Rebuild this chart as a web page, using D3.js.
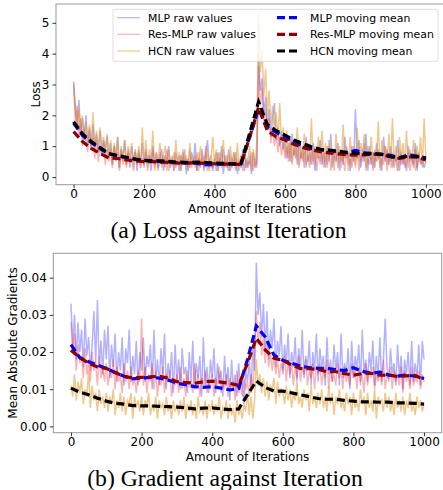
<!DOCTYPE html>
<html>
<head>
<meta charset="utf-8">
<script src="https://cdn.jsdelivr.net/npm/d3@7"></script>
<style>
body { margin: 0; background: #fff; }
</style>
</head>
<body>
<svg id="chart" width="443" height="490" font-family="DejaVu Sans, sans-serif"></svg>
<script>
// raw values are sampled every 5 iterations, moving means every 25
var rawStep = 5;
var meanStep = 25;

var lossMlpRaw = [
  3.1,2.2,1.6,2.5,1.4,1.9,1.2,2.0,1.1,1.6,0.9,1.7,1.0,1.4,0.8,1.5,0.7,1.2,0.9,1.3,
  0.6,1.1,0.4,1.0,0.5,1.3,0.3,0.9,0.6,1.2,0.4,0.8,0.3,1.0,0.5,0.9,0.2,0.8,0.4,1.1,
  0.3,0.9,0.5,0.7,0.2,1.0,0.4,0.8,0.3,0.6,0.9,0.2,0.7,0.4,1.0,0.3,0.6,0.2,0.8,0.5,
  0.2,0.7,0.4,0.9,0.1,0.6,0.3,0.8,0.5,1.1,0.2,0.6,0.3,0.9,0.2,0.7,1.2,0.3,0.5,0.2,
  0.6,0.2,0.8,0.4,1.0,0.1,0.7,0.3,0.9,0.2,0.6,0.4,0.8,0.1,0.5,0.3,0.9,0.2,0.6,0.3,
  0.7,0.1,0.8,0.3,0.5,4.0,2.8,3.2,2.0,2.6,1.6,2.2,1.3,1.9,2.4,1.2,1.6,1.0,1.5,0.9,
  1.3,0.6,1.1,0.5,1.4,0.7,1.0,0.4,1.2,0.6,0.9,0.3,1.3,0.5,0.8,0.4,1.1,0.2,0.9,0.6,
  1.2,0.4,0.8,0.3,1.0,0.5,1.4,0.3,0.7,0.5,1.1,0.2,0.9,0.4,1.3,0.6,0.8,0.2,1.0,0.5,
  2.2,0.6,1.2,0.3,0.9,0.5,1.4,0.2,1.0,0.4,0.8,0.3,1.1,0.6,0.7,0.2,1.3,0.5,0.9,0.4,
  1.0,0.3,0.7,0.5,1.2,0.2,0.8,0.4,0.6,0.2,1.0,0.5,0.7,0.3,1.1,0.2,0.8,0.4,0.6,0.3,0.5
];
var lossResRaw = [
  3.0,1.8,2.3,1.3,1.9,1.0,1.6,1.2,0.8,1.5,0.9,1.3,0.6,1.2,0.5,1.0,0.7,1.1,0.4,0.9,
  0.5,0.9,0.3,1.0,0.6,0.8,0.2,0.9,0.4,0.7,0.3,1.0,0.5,0.6,0.2,0.8,0.4,0.9,0.3,0.6,
  0.4,0.8,0.2,0.7,0.5,0.9,0.3,0.6,0.2,0.8,0.4,0.7,0.3,0.9,0.2,0.6,0.4,0.8,0.3,0.5,
  0.7,0.2,0.8,0.4,0.6,0.2,0.9,0.3,0.5,0.7,0.2,0.8,0.4,0.6,0.3,1.0,0.2,0.5,0.7,0.3,
  0.5,0.8,0.2,0.6,0.3,0.9,0.4,0.5,0.2,0.7,0.3,0.8,0.2,0.6,0.4,0.7,0.2,0.9,0.3,0.5,
  0.4,0.8,0.2,0.6,0.3,3.6,2.3,2.9,1.8,2.2,1.5,1.9,1.1,1.6,1.0,1.4,0.8,1.3,0.7,1.1,
  0.6,1.0,0.5,1.2,0.4,0.9,0.6,1.1,0.3,0.8,0.5,1.0,0.4,0.7,0.3,0.9,0.5,0.8,0.2,0.7,
  0.5,0.9,0.3,0.8,0.4,1.0,0.2,0.7,0.6,0.9,0.3,0.8,0.5,0.7,0.2,1.0,0.4,0.6,0.3,0.8,
  0.4,0.9,0.2,0.7,0.5,1.1,0.3,0.6,0.4,0.8,0.2,0.7,0.5,0.9,0.3,0.6,0.4,1.0,0.2,0.7,
  0.5,0.8,0.3,0.6,0.2,0.9,0.4,0.7,0.3,0.5,0.8,0.2,0.6,0.4,0.9,0.3,0.7,0.5,0.4,0.6,0.5
];
var lossHcnRaw = [
  2.8,2.4,1.7,2.2,1.5,2.0,1.3,1.8,1.1,1.7,1.0,2.1,0.9,1.5,0.8,1.6,1.0,1.3,0.7,1.4,
  0.6,1.2,0.4,1.1,0.7,1.3,0.3,1.0,0.5,1.2,0.4,0.9,0.6,1.1,0.3,0.8,0.5,1.0,0.3,1.6,
  0.4,1.2,0.3,0.9,0.6,1.5,0.2,0.8,0.5,1.1,0.3,0.7,1.0,0.2,0.9,0.4,0.7,0.2,1.2,0.4,
  0.8,0.2,0.9,0.5,0.7,0.2,1.1,0.4,0.6,0.3,0.8,0.2,1.0,0.5,0.7,0.3,0.9,0.2,0.6,1.3,
  0.4,0.9,0.2,0.8,0.5,1.2,0.3,0.7,0.2,1.0,0.4,0.8,0.3,1.1,0.2,0.7,0.5,0.9,0.3,0.6,
  1.0,0.2,0.9,0.4,1.1,5.3,3.4,4.1,2.6,3.5,2.0,2.8,1.7,2.3,1.5,2.1,1.2,2.4,1.1,1.6,
  0.8,1.5,0.6,1.3,0.5,1.2,0.7,1.6,0.4,1.0,0.6,1.4,0.3,1.1,0.5,1.9,0.4,1.0,0.6,1.3,
  0.4,1.5,0.6,1.1,0.3,1.2,0.7,0.9,0.2,1.4,0.5,1.0,0.3,1.7,0.6,0.9,0.2,1.3,0.5,1.0,
  0.3,1.6,0.5,1.1,0.7,1.4,0.2,1.0,0.6,1.3,0.3,0.9,0.5,1.8,0.2,1.2,0.6,1.0,0.4,1.4,
  0.3,1.9,0.5,1.0,0.2,1.3,0.6,1.1,0.4,1.5,0.3,0.9,0.6,1.2,0.2,1.0,0.5,1.3,0.3,1.9,0.6
];

var lossMlpMean = [1.75,1.35,1.12,0.92,0.75,0.68,0.62,0.57,0.53,0.52,0.50,0.48,0.46,0.45,0.44,0.40,0.40,0.42,0.41,0.42,
  1.30,2.20,1.62,1.45,1.30,1.12,1.02,0.92,0.88,0.84,0.82,0.78,0.86,0.78,0.76,0.74,0.70,0.62,0.72,0.68,0.62];
var lossResMean = [1.47,1.15,0.93,0.76,0.62,0.60,0.55,0.52,0.50,0.50,0.48,0.47,0.45,0.45,0.46,0.44,0.43,0.42,0.41,0.41,
  1.30,2.25,1.50,1.30,1.20,1.06,0.96,0.88,0.82,0.78,0.75,0.72,0.71,0.72,0.74,0.72,0.66,0.60,0.65,0.64,0.55];
var lossHcnMean = [1.79,1.40,1.15,0.95,0.76,0.70,0.64,0.58,0.54,0.52,0.52,0.50,0.48,0.47,0.48,0.47,0.45,0.44,0.43,0.43,
  1.43,2.44,1.70,1.50,1.36,1.20,1.09,0.98,0.90,0.87,0.84,0.80,0.77,0.75,0.76,0.73,0.66,0.63,0.67,0.66,0.60];

var gradMlpRaw = [
  .033,.022,.030,.018,.028,.020,.026,.016,.029,.019,.024,.015,.022,.031,.017,.034,.016,.023,.014,.026,
  .018,.027,.013,.022,.016,.025,.012,.020,.015,.024,.011,.021,.017,.026,.012,.019,.014,.023,.011,.020,
  .015,.024,.012,.019,.016,.022,.010,.026,.013,.018,.011,.021,.014,.025,.010,.017,.013,.020,.009,.022,
  .012,.018,.010,.021,.014,.016,.009,.020,.012,.023,.010,.017,.013,.019,.008,.024,.011,.016,.009,.018,
  .013,.021,.009,.017,.012,.015,.008,.019,.011,.016,.007,.018,.010,.014,.008,.017,.010,.013,.006,.015,
  .012,.018,.009,.022,.015,.044,.030,.036,.024,.033,.020,.031,.018,.026,.021,.029,.016,.023,.019,.027,
  .014,.022,.017,.025,.013,.020,.016,.024,.012,.021,.015,.026,.013,.019,.016,.023,.011,.020,.015,.025,
  .012,.021,.016,.019,.011,.024,.014,.018,.012,.022,.015,.020,.011,.025,.013,.017,.014,.021,.010,.023,
  .013,.019,.015,.022,.011,.026,.014,.018,.012,.020,.015,.023,.011,.019,.013,.024,.012,.018,.029,.016,
  .012,.021,.014,.017,.011,.022,.013,.019,.010,.018,.014,.020,.011,.023,.012,.017,.013,.022,.011,.023,.018
];
var gradResRaw = [
  .028,.020,.025,.015,.022,.017,.019,.013,.021,.014,.018,.012,.020,.015,.017,.011,.019,.013,.016,.012,
  .017,.011,.015,.013,.018,.010,.016,.012,.014,.009,.017,.012,.015,.010,.016,.011,.013,.009,.015,.012,
  .029,.011,.016,.009,.014,.012,.017,.010,.015,.008,.013,.011,.016,.009,.014,.012,.015,.008,.013,.011,
  .014,.009,.016,.010,.013,.008,.015,.011,.012,.009,.017,.010,.014,.008,.013,.011,.015,.009,.012,.010,
  .014,.008,.013,.011,.016,.009,.012,.010,.014,.008,.013,.010,.012,.007,.015,.009,.011,.008,.013,.010,
  .012,.008,.014,.010,.018,.031,.022,.028,.019,.024,.017,.023,.016,.020,.015,.019,.014,.018,.013,.017,
  .015,.019,.012,.018,.014,.017,.011,.016,.013,.019,.012,.016,.014,.018,.011,.015,.013,.017,.010,.016,
  .014,.017,.011,.015,.013,.018,.010,.016,.012,.014,.011,.017,.013,.015,.010,.016,.012,.014,.011,.017,
  .013,.015,.010,.016,.012,.014,.009,.017,.011,.015,.013,.016,.010,.014,.012,.015,.011,.018,.010,.014,
  .013,.016,.010,.015,.012,.014,.011,.016,.009,.015,.012,.014,.010,.016,.011,.013,.012,.015,.010,.014,.012
];
var gradHcnRaw = [
  .011,.008,.014,.007,.012,.009,.013,.006,.010,.008,.015,.005,.011,.007,.009,.004,.010,.006,.008,.005,
  .009,.004,.008,.006,.010,.003,.007,.005,.009,.004,.008,.003,.007,.006,.009,.002,.008,.005,.007,.004,
  .008,.003,.007,.005,.009,.003,.006,.004,.008,.002,.007,.005,.006,.003,.008,.004,.006,.002,.007,.004,
  .006,.003,.007,.004,.008,.002,.006,.004,.007,.003,.006,.002,.008,.004,.005,.003,.007,.002,.006,.004,
  .007,.003,.006,.004,.008,.002,.005,.004,.007,.002,.006,.003,.005,.001,.007,.003,.005,.002,.006,.004,
  .009,.003,.008,.002,.007,.018,.011,.014,.009,.013,.008,.012,.007,.011,.010,.013,.006,.012,.008,.010,
  .009,.006,.011,.007,.010,.005,.009,.007,.012,.006,.008,.005,.010,.007,.009,.004,.011,.006,.008,.005,
  .009,.006,.010,.005,.008,.004,.011,.006,.009,.003,.008,.006,.010,.005,.007,.004,.009,.006,.008,.003,
  .009,.005,.007,.004,.010,.006,.008,.003,.009,.005,.007,.004,.010,.002,.008,.006,.007,.004,.009,.005,
  .008,.004,.007,.003,.009,.005,.007,.004,.008,.003,.007,.005,.009,.004,.006,.003,.008,.005,.007,.004,.006
];

var gradMlpMean = [.0220,.0185,.0174,.0165,.0156,.0145,.0135,.0128,.0130,.0132,.0130,.0125,.0116,.0112,.0107,.0105,.0107,.0103,.0098,.0102,
  .0180,.0270,.0241,.0192,.0178,.0170,.0162,.0158,.0156,.0156,.0153,.0150,.0158,.0148,.0143,.0146,.0138,.0135,.0138,.0135,.0129];
var gradResMean = [.0205,.0185,.0170,.0160,.0156,.0145,.0135,.0130,.0132,.0133,.0135,.0130,.0120,.0118,.0116,.0120,.0122,.0119,.0116,.0110,
  .0170,.0237,.0206,.0183,.0178,.0165,.0156,.0155,.0153,.0147,.0147,.0142,.0138,.0142,.0143,.0138,.0138,.0134,.0136,.0137,.0125];
var gradHcnMean = [.0103,.0092,.0085,.0076,.0068,.0062,.0060,.0056,.0055,.0055,.0054,.0053,.0052,.0050,.0047,.0049,.0050,.0047,.0045,.0047,
  .0085,.0122,.0105,.0095,.0095,.0090,.0085,.0080,.0075,.0073,.0073,.0070,.0068,.0066,.0066,.0065,.0065,.0063,.0063,.0062,.0060];

var xTicks = [0, 200, 400, 600, 800, 1000];
var lossTicks = [0, 1, 2, 3, 4, 5];
var gradTicks = [0, 0.01, 0.02, 0.03, 0.04];

var seriesNames = ["MLP", "Res-MLP", "HCN"];
var rawColors = ["#0000ff", "#ff0000", "#e09b2d"];
var rawAlpha = [0.3, 0.3, 0.55];
var meanColors = ["#0000ff", "#8b0000", "#000000"];

var svg = d3.select("#chart");

function drawPanel(p) {
  var x = d3.scaleLinear().domain([-50, 1050]).range([p.left, p.right]);
  var y = d3.scaleLinear().domain(p.yDomain).range([p.bottom, p.top]);
  var g = svg.append("g");

  var rawLine = d3.line()
    .x(function(d, i) { return x(i * rawStep); })
    .y(function(d) { return y(d); });
  var meanLine = d3.line()
    .x(function(d, i) { return x(i * meanStep); })
    .y(function(d) { return y(d); });

  p.raw.forEach(function(s, k) {
    g.append("path")
      .attr("d", rawLine(s))
      .attr("fill", "none")
      .attr("stroke", rawColors[k])
      .attr("stroke-opacity", rawAlpha[k])
      .attr("stroke-width", 1.5);
  });
  p.mean.forEach(function(s, k) {
    g.append("path")
      .attr("d", meanLine(s))
      .attr("fill", "none")
      .attr("stroke", meanColors[k])
      .attr("stroke-width", 3.2)
      .attr("stroke-dasharray", "8,4");
  });

  // frame
  g.append("rect")
    .attr("x", p.left).attr("y", p.top)
    .attr("width", p.right - p.left).attr("height", p.bottom - p.top)
    .attr("fill", "none").attr("stroke", "#9a9a9a").attr("stroke-width", 1);

  var xa = g.append("g")
    .attr("transform", "translate(0," + p.bottom + ")")
    .call(d3.axisBottom(x).tickValues(xTicks).tickFormat(d3.format("d")).tickSize(3.5).tickPadding(1));
  var ya = g.append("g")
    .attr("transform", "translate(" + p.left + ",0)")
    .call(d3.axisLeft(y).tickValues(p.yTicks).tickFormat(p.yFormat).tickSize(3.5).tickPadding(3));
  [xa, ya].forEach(function(a) {
    a.select(".domain").remove();
    a.selectAll("text").attr("font-size", 12).attr("font-family", "DejaVu Sans, sans-serif").attr("fill", "#000");
    a.selectAll("line").attr("stroke", "#000").attr("stroke-width", 0.8);
  });

  g.append("text")
    .attr("x", (p.left + p.right) / 2)
    .attr("y", p.bottom + 28)
    .attr("text-anchor", "middle")
    .attr("font-size", 12)
    .text("Amount of Iterations");

  g.append("text")
    .attr("transform", "translate(" + p.yLabelX + "," + ((p.top + p.bottom) / 2) + ") rotate(-90)")
    .attr("text-anchor", "middle")
    .attr("font-size", 12)
    .text(p.yLabel);

  g.append("text")
    .attr("x", p.captionX)
    .attr("y", p.captionY)
    .attr("text-anchor", "middle")
    .attr("font-family", "Liberation Serif, Times New Roman, serif")
    .attr("font-size", 23.7)
    .text(p.caption);
}

drawPanel({
  left: 56, right: 443.5, top: 4, bottom: 184.7,
  yDomain: [-0.25, 5.61], yTicks: lossTicks, yFormat: d3.format("d"),
  raw: [lossMlpRaw, lossResRaw, lossHcnRaw],
  mean: [lossMlpMean, lossResMean, lossHcnMean],
  yLabel: "Loss", yLabelX: 40,
  caption: "(a) Loss against Iteration", captionX: 228.5, captionY: 237.5
});

drawPanel({
  left: 53.3, right: 441.7, top: 253.3, bottom: 432.7,
  yDomain: [-0.0017, 0.04657], yTicks: gradTicks, yFormat: d3.format(".2f"),
  raw: [gradMlpRaw, gradResRaw, gradHcnRaw],
  mean: [gradMlpMean, gradResMean, gradHcnMean],
  yLabel: "Mean Absolute Gradients", yLabelX: 17,
  caption: "(b) Gradient against Iteration", captionX: 225, captionY: 485.5
});

// legend (top panel only)
var legend = svg.append("g");
legend.append("rect")
  .attr("x", 113).attr("y", 9.3).attr("width", 325).attr("height", 52)
  .attr("rx", 2).attr("fill", "#fff").attr("fill-opacity", 0.8)
  .attr("stroke", "#d6d6d6").attr("stroke-width", 0.8);
var rowY = [17.7, 34.3, 51];
seriesNames.forEach(function(name, k) {
  legend.append("line")
    .attr("x1", 117).attr("x2", 140).attr("y1", rowY[k]).attr("y2", rowY[k])
    .attr("stroke", rawColors[k]).attr("stroke-opacity", rawAlpha[k]).attr("stroke-width", 1.2);
  legend.append("text")
    .attr("x", 148).attr("y", rowY[k]).attr("dy", "0.35em")
    .attr("font-size", 10.9)
    .text(name + " raw values");
  legend.append("line")
    .attr("x1", 277).attr("x2", 301).attr("y1", rowY[k]).attr("y2", rowY[k])
    .attr("stroke", meanColors[k]).attr("stroke-width", 3.2).attr("stroke-dasharray", "8,4");
  legend.append("text")
    .attr("x", 310).attr("y", rowY[k]).attr("dy", "0.35em")
    .attr("font-size", 10.9)
    .text(name + " moving mean");
});
</script>
</body>
</html>
